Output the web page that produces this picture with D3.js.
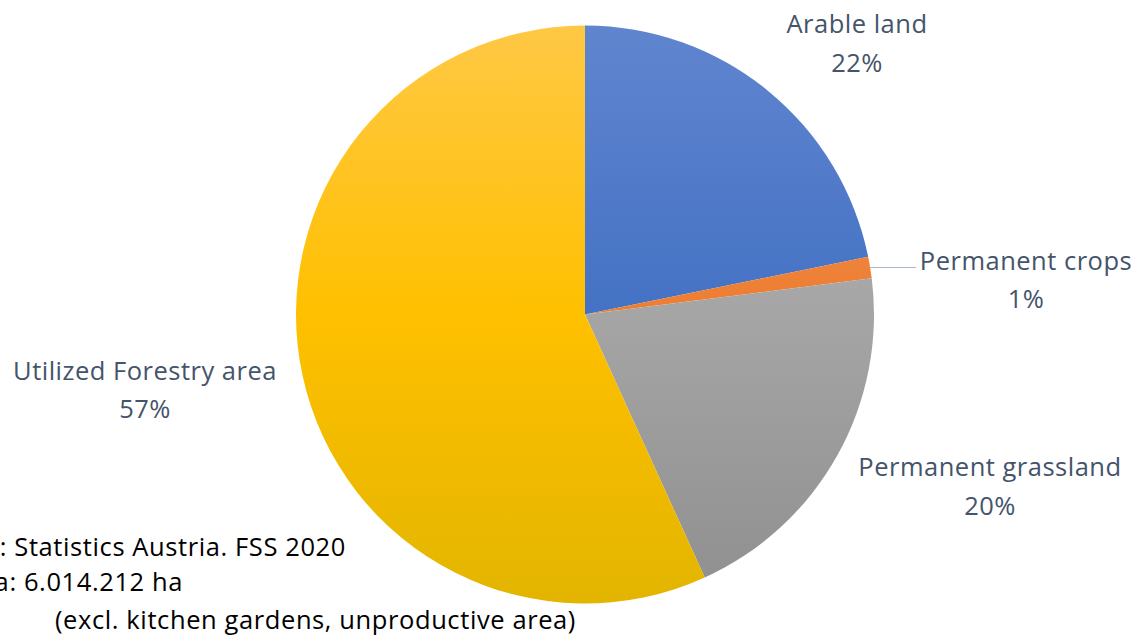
<!DOCTYPE html>
<html><head><meta charset="utf-8">
<script src="https://cdn.jsdelivr.net/npm/d3@7"></script>
<style>body{margin:0;background:#fff;overflow:hidden}</style>
</head><body>
<svg id="c" width="1137" height="639"></svg>
<script>
const categories = ["Arable land", "Permanent crops", "Permanent grassland", "Utilized Forestry area"];
const shares = [21.8, 1.2, 20.2, 56.8];
const pctLabels = ["22%", "1%", "20%", "57%"];
const colorsTop = ["#6085cf", "#f59a5e", "#b6b6b6", "#ffc845"];
const colorsMid = ["#4472c4", "#ed7d31", "#a5a5a5", "#ffc000"];
const colorsBot = ["#2e5cba", "#d96a1f", "#8f8f8f", "#e3b500"];
const noteLines = ["Source: Statistics Austria. FSS 2020", "Total area: 6.014.212 ha", "(excl. kitchen gardens, unproductive area)"];

const svg = d3.select("#c");
const cx = 585, cy = 314.5, R = 289;
const data = categories.map((c, i) => ({name: c, value: shares[i], pct: pctLabels[i], i}));
const pie = d3.pie().value(d => d.value).sort(null);
const arc = d3.arc().innerRadius(0).outerRadius(R);
const arcs = pie(data);

const defs = svg.append("defs");
data.forEach((d, i) => {
  const g = defs.append("linearGradient").attr("id", "g" + i)
    .attr("gradientUnits", "userSpaceOnUse")
    .attr("x1", 0).attr("y1", -R).attr("x2", 0).attr("y2", R);
  g.append("stop").attr("offset", "0%").attr("stop-color", colorsTop[i]);
  g.append("stop").attr("offset", "50%").attr("stop-color", colorsMid[i]);
  g.append("stop").attr("offset", "100%").attr("stop-color", colorsBot[i]);
});

const gp = svg.append("g").attr("transform", `translate(${cx},${cy})`);
gp.selectAll("path").data(arcs).join("path")
  .attr("d", arc)
  .attr("fill", (d, i) => `url(#g${i})`);

const labelPos = [
  {x: 857, y1: 33, y2: 72},
  {x: 1026, y1: 270, y2: 308},
  {x: 990, y1: 476, y2: 515},
  {x: 145, y1: 380, y2: 418}
];
const font = "'Open Sans', sans-serif";
data.forEach((d, i) => {
  const p = labelPos[i];
  const t = svg.append("text").attr("text-anchor", "middle").attr("fill", "#44546a")
    .style("font-family", font).style("font-size", "25.5px").style("letter-spacing", "0.5px");
  t.append("tspan").attr("x", p.x).attr("y", p.y1).text(d.name);
  t.append("tspan").attr("x", p.x).attr("y", p.y2).text(d.pct);
});
const mid = arcs[1];
const ang = (mid.startAngle + mid.endAngle) / 2;
const px = cx + Math.sin(ang) * R, py = cy - Math.cos(ang) * R;
svg.append("line").attr("x1", px).attr("y1", py).attr("x2", 916).attr("y2", py)
  .attr("stroke", "#a9b6c9").attr("stroke-width", 1.2);

const notes = [
  {x: 346, y: 556, anchor: "end"},
  {x: 183, y: 591, anchor: "end"},
  {x: 55, y: 629, anchor: "start"}
];
noteLines.forEach((s, i) => {
  svg.append("text").attr("x", notes[i].x).attr("y", notes[i].y)
    .attr("text-anchor", notes[i].anchor).attr("fill", "#000")
    .style("font-family", font).style("font-size", "25.5px").style("letter-spacing", "0.6px").text(s);
});
</script>
</body></html>
